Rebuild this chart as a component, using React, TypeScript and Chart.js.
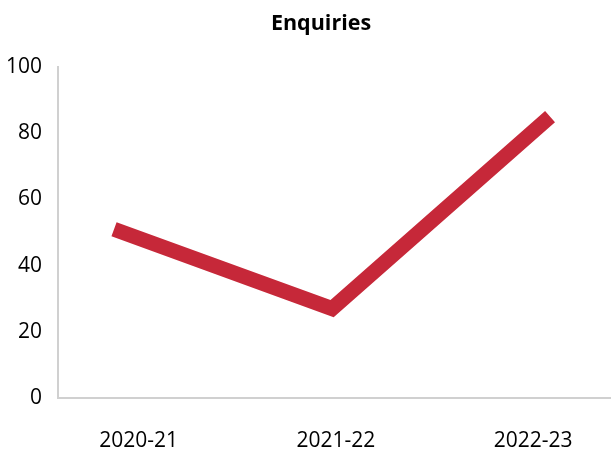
import { useEffect, useRef } from 'react';
import { Chart, registerables } from 'chart.js';

Chart.register(...registerables);

const TITLE = 'Enquiries';
const CATEGORIES = ['2020-21', '2021-22', '2022-23'];
const ENQUIRIES = [51, 27, 85];
const Y_TICKS = [0, 20, 40, 60, 80, 100];

const FONT = '"Open Sans", sans-serif';
const LINE_COLOR = '#C62839';
const AXIS_COLOR = '#D0D0D0';

export default function App() {
  const ref = useRef<HTMLCanvasElement>(null);

  useEffect(() => {
    if (!ref.current) return;

    const titlePlugin = {
      id: 'customTitle',
      afterDraw(chart: any) {
        const ctx = chart.ctx;
        ctx.save();
        ctx.font = `bold 21.5px ${FONT}`;
        ctx.fillStyle = '#000';
        ctx.textAlign = 'center';
        ctx.textBaseline = 'alphabetic';
        ctx.fillText(TITLE, 321, 30);
        ctx.restore();
      },
    };

    const chart = new Chart(ref.current, {
      type: 'line',
      data: {
        datasets: [
          {
            label: TITLE,
            data: ENQUIRIES.map((v, i) => ({ x: i, y: v })),
            borderColor: LINE_COLOR,
            backgroundColor: LINE_COLOR,
            borderWidth: 15,
            pointRadius: 0,
            pointHoverRadius: 0,
            tension: 0,
            borderCapStyle: 'butt',
            borderJoinStyle: 'miter',
            xAxisID: 'x',
            yAxisID: 'y',
            clip: false as any,
          },
        ],
      },
      options: {
        animation: false,
        responsive: true,
        maintainAspectRatio: false,
        layout: { padding: { top: 67, right: 1, left: 0, bottom: 0 } },
        plugins: {
          legend: { display: false },
          title: { display: false },
          tooltip: { enabled: false },
        },
        scales: {
          x: {
            type: 'linear',
            display: false,
            min: -0.257,
            max: 2.275,
          },
          xl: {
            type: 'linear',
            position: 'bottom',
            min: -0.409,
            max: 2.39,
            afterBuildTicks: (axis: any) => {
              axis.ticks = CATEGORIES.map((_, i) => ({ value: i }));
            },
            afterFit: (axis: any) => {
              axis.height = 52;
            },
            grid: { display: false, drawTicks: false },
            border: { display: true, color: AXIS_COLOR, width: 2 },
            ticks: {
              padding: 30,
              color: '#000',
              font: { family: FONT, size: 21, lineHeight: 1.2 },
              maxRotation: 0,
              autoSkip: false,
              callback: (v: any) => CATEGORIES[v as number] ?? '',
            },
          },
          y: {
            type: 'linear',
            min: 0,
            max: 100,
            afterBuildTicks: (axis: any) => {
              axis.ticks = Y_TICKS.map((v) => ({ value: v }));
            },
            afterFit: (axis: any) => {
              axis.width = 58;
            },
            grid: { display: false, drawTicks: false },
            border: { display: true, color: AXIS_COLOR, width: 2 },
            ticks: {
              padding: 16,
              color: '#000',
              font: { family: FONT, size: 21 },
            },
          },
        },
      },
      plugins: [titlePlugin],
    });

    return () => chart.destroy();
  }, []);

  return (
    <div style={{ position: 'fixed', left: 0, top: 0, width: 611, height: 450, background: '#fff' }}>
      <canvas ref={ref} />
    </div>
  );
}
